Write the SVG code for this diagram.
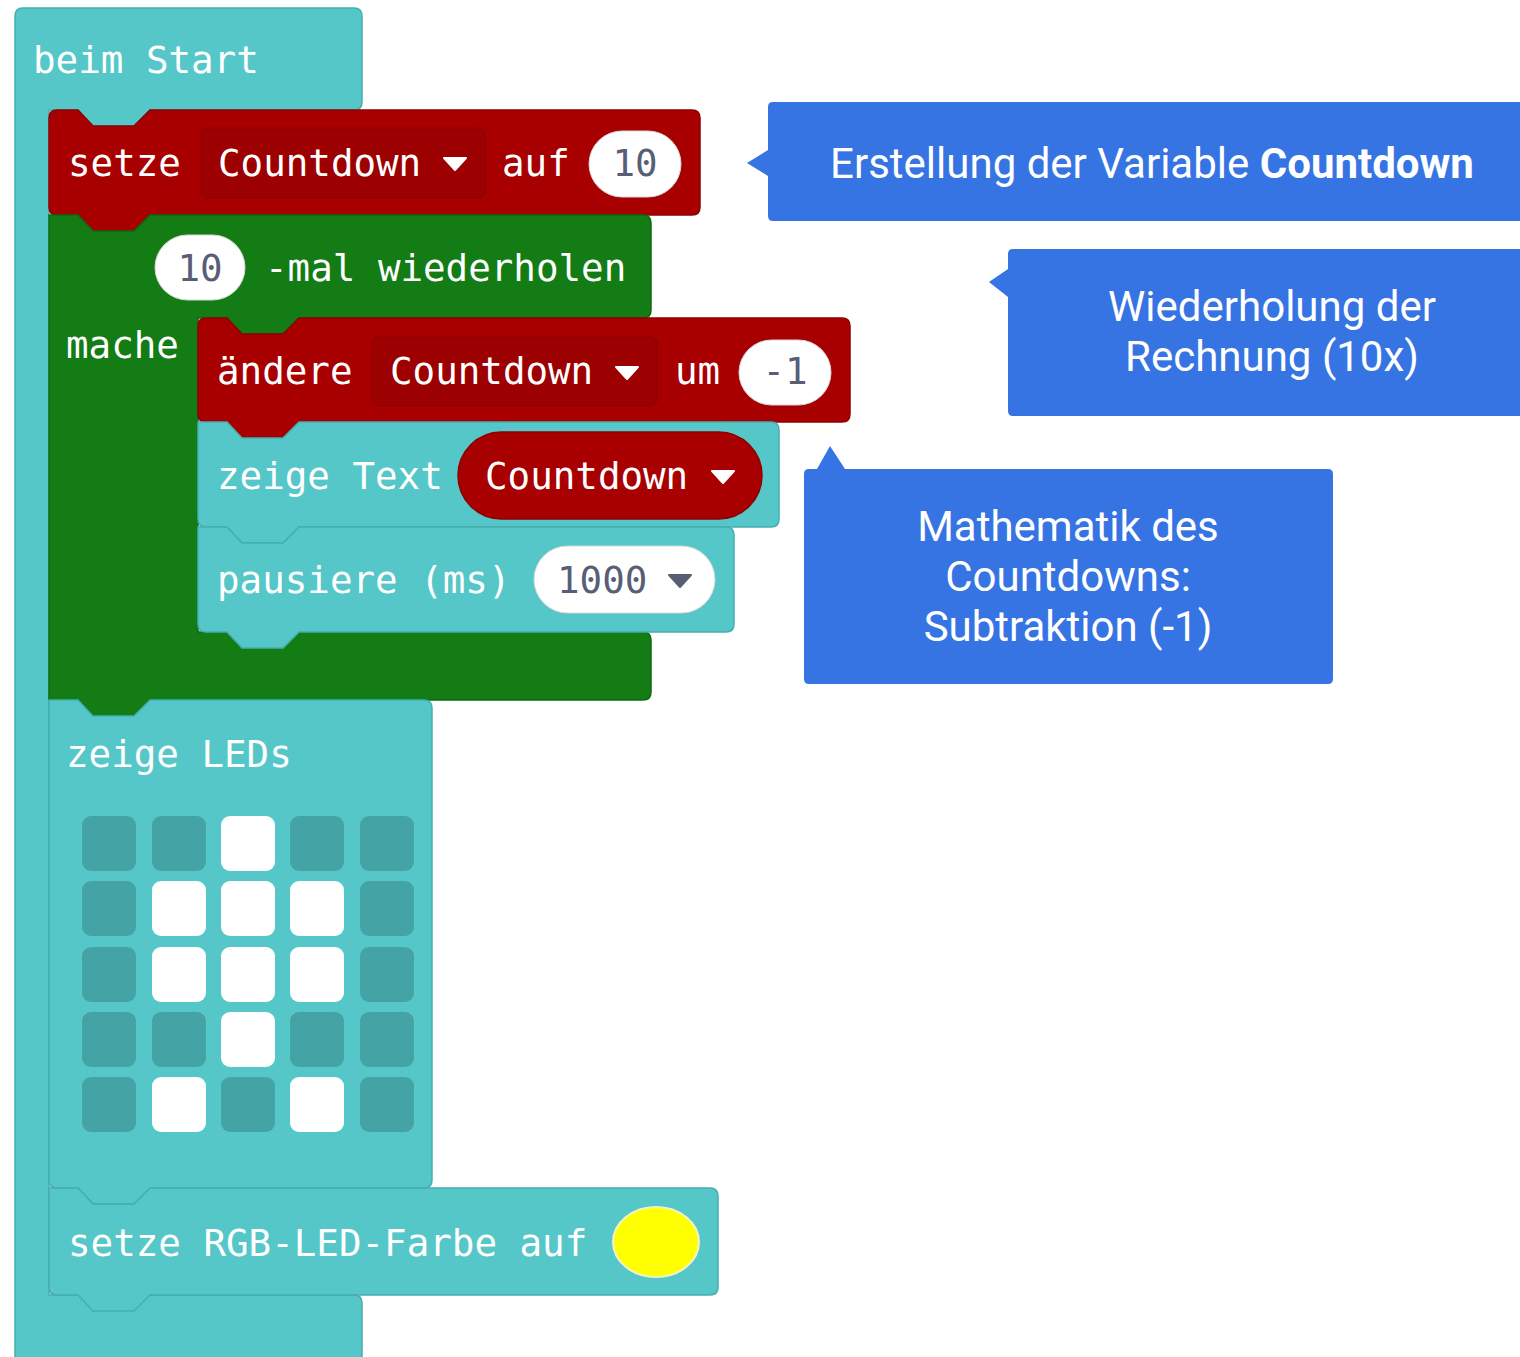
<svg xmlns="http://www.w3.org/2000/svg" width="1520" height="1357" viewBox="0 0 1520 1357">
<defs>
<style>
.cyan{fill:#56c7c8;stroke:#45aeaf;stroke-width:1.5}
.red{fill:#a80000;stroke:#8e0000;stroke-width:1.5}
.green{fill:#137c15;stroke:#0e6a10;stroke-width:1.5}
.field{fill:#9c0000;stroke:#8a0000;stroke-width:1}
.pill{fill:#ffffff;stroke:#d8d8d8;stroke-width:1}
.bt{font-family:"DejaVu Sans Mono","Liberation Mono",monospace;font-size:37.5px;fill:#ffffff}
.num{font-family:"DejaVu Sans Mono","Liberation Mono",monospace;font-size:37.5px;fill:#575e75}
.tri{fill:#ffffff}
.trid{fill:#575e75}
.led{fill:#44a3a4}
.on{fill:#ffffff}
.call{fill:#3674e3}
.ct{font-family:Roboto,"Liberation Sans",sans-serif;font-size:42px;fill:#ffffff}
</style>
</defs>
<rect width="1520" height="1357" fill="#ffffff"/>

<g id="beim-start">
<path class="cyan" d="M15,16 Q15,8 23,8 H354 Q362,8 362,16 V102 Q362,110 354,110 H150 L134,126 H93 L78,110 H49 V1295 H354 Q362,1295 362,1303 V1370 H15 Z"/>
<text class="bt" x="33" y="73">beim Start</text>
</g>

<g id="setze-countdown">
<path class="red" d="M49,118 Q49,110 57,110 H78 L93,126 H134 L150,110 H692 Q700,110 700,118 V207 Q700,215 692,215 H150 L134,231 H93 L78,215 H57 Q49,215 49,207 Z"/>
<text class="bt" x="68" y="176">setze</text>
<rect class="field" x="201" y="128" width="284" height="70" rx="7"/>
<text class="bt" x="218" y="176">Countdown</text>
<path class="tri" d="M444,158 H466 L455,170 Z" stroke="#ffffff" stroke-width="2" stroke-linejoin="round"/>
<text class="bt" x="502" y="176">auf</text>
<rect class="pill" x="589" y="131" width="92" height="66" rx="33"/>
<text class="num" x="635" y="176" text-anchor="middle">10</text>
</g>

<g id="wiederholen">
<path class="green" d="M49,215 H78 L93,231 H134 L150,215 H643 Q651,215 651,223 V310 Q651,318 643,318 H299 L283,334 H242 L227,318 H198 V632 H643 Q651,632 651,640 V692 Q651,700 643,700 H150 L134,716 H93 L78,700 H49 Z"/>
<rect class="pill" x="155" y="235" width="90" height="65" rx="32.5"/>
<text class="num" x="200" y="281" text-anchor="middle">10</text>
<text class="bt" x="265" y="281">-mal wiederholen</text>
<text class="bt" x="66" y="358">mache</text>
</g>

<g id="aendere-countdown">
<path class="red" d="M198,326 Q198,318 206,318 H227 L242,334 H283 L299,318 H842 Q850,318 850,326 V414 Q850,422 842,422 H299 L283,438 H242 L227,422 H206 Q198,422 198,414 Z"/>
<text class="bt" x="217" y="384">ändere</text>
<rect class="field" x="372" y="337" width="285" height="69" rx="7"/>
<text class="bt" x="390" y="384">Countdown</text>
<path class="tri" d="M616,367 H638 L627,379 Z" stroke="#ffffff" stroke-width="2" stroke-linejoin="round"/>
<text class="bt" x="675" y="384">um</text>
<rect class="pill" x="739" y="340" width="92" height="65" rx="32.5"/>
<text class="num" x="785" y="384" text-anchor="middle">-1</text>
</g>

<g id="zeige-text">
<path class="cyan" d="M198,422 H227 L242,438 H283 L299,422 H771 Q779,422 779,430 V519 Q779,527 771,527 H299 L283,543 H242 L227,527 H206 Q198,527 198,519 Z"/>
<text class="bt" x="217" y="489">zeige Text</text>
<rect class="red" x="458" y="432" width="304" height="87" rx="43.5"/>
<text class="bt" x="485" y="489">Countdown</text>
<path class="tri" d="M712,471 H734 L723,483 Z" stroke="#ffffff" stroke-width="2" stroke-linejoin="round"/>
</g>

<g id="pausiere">
<path class="cyan" d="M198,527 H227 L242,543 H283 L299,527 H726 Q734,527 734,535 V624 Q734,632 726,632 H299 L283,648 H242 L227,632 H206 Q198,632 198,624 Z"/>
<text class="bt" x="217" y="593">pausiere (ms)</text>
<rect class="pill" x="534" y="546" width="181" height="67" rx="33.5"/>
<text class="num" x="557" y="593">1000</text>
<path class="trid" d="M669,575 H691 L680,587 Z" stroke="#575e75" stroke-width="2" stroke-linejoin="round"/>
</g>

<g id="zeige-leds">
<path class="cyan" d="M49,700 H78 L93,716 H134 L150,700 H424 Q432,700 432,708 V1180 Q432,1188 424,1188 H150 L134,1204 H93 L78,1188 H57 Q49,1188 49,1180 Z"/>
<text class="bt" x="66" y="767">zeige LEDs</text>
<rect class="led" x="82" y="816" width="54" height="55" rx="9"/>
<rect class="led" x="152" y="816" width="54" height="55" rx="9"/>
<rect class="on" x="221" y="816" width="54" height="55" rx="9"/>
<rect class="led" x="290" y="816" width="54" height="55" rx="9"/>
<rect class="led" x="360" y="816" width="54" height="55" rx="9"/>
<rect class="led" x="82" y="881" width="54" height="55" rx="9"/>
<rect class="on" x="152" y="881" width="54" height="55" rx="9"/>
<rect class="on" x="221" y="881" width="54" height="55" rx="9"/>
<rect class="on" x="290" y="881" width="54" height="55" rx="9"/>
<rect class="led" x="360" y="881" width="54" height="55" rx="9"/>
<rect class="led" x="82" y="947" width="54" height="55" rx="9"/>
<rect class="on" x="152" y="947" width="54" height="55" rx="9"/>
<rect class="on" x="221" y="947" width="54" height="55" rx="9"/>
<rect class="on" x="290" y="947" width="54" height="55" rx="9"/>
<rect class="led" x="360" y="947" width="54" height="55" rx="9"/>
<rect class="led" x="82" y="1012" width="54" height="55" rx="9"/>
<rect class="led" x="152" y="1012" width="54" height="55" rx="9"/>
<rect class="on" x="221" y="1012" width="54" height="55" rx="9"/>
<rect class="led" x="290" y="1012" width="54" height="55" rx="9"/>
<rect class="led" x="360" y="1012" width="54" height="55" rx="9"/>
<rect class="led" x="82" y="1077" width="54" height="55" rx="9"/>
<rect class="on" x="152" y="1077" width="54" height="55" rx="9"/>
<rect class="led" x="221" y="1077" width="54" height="55" rx="9"/>
<rect class="on" x="290" y="1077" width="54" height="55" rx="9"/>
<rect class="led" x="360" y="1077" width="54" height="55" rx="9"/>
</g>

<g id="setze-rgb">
<path class="cyan" d="M49,1188 H78 L93,1204 H134 L150,1188 H710 Q718,1188 718,1196 V1287 Q718,1295 710,1295 H150 L134,1311 H93 L78,1295 H57 Q49,1295 49,1287 Z"/>
<text class="bt" x="68" y="1256">setze RGB-LED-Farbe auf</text>
<ellipse cx="656" cy="1242" rx="43" ry="35" fill="#ffff00" stroke="#f4f4c8" stroke-width="2"/>
</g>

<g id="callout-variable">
<path class="call" d="M768,107 Q768,102 773,102 H1520 V221 H773 Q768,221 768,216 V176 L747,163 L768,150 Z"/>
<text class="ct" x="1152" y="178" text-anchor="middle">Erstellung der Variable <tspan font-weight="700">Countdown</tspan></text>
</g>

<g id="callout-wiederholung">
<path class="call" d="M1008,254 Q1008,249 1013,249 H1520 V416 H1013 Q1008,416 1008,411 V297 L989,282 L1008,269 Z"/>
<text class="ct" x="1272" y="321" text-anchor="middle">Wiederholung der</text>
<text class="ct" x="1272" y="371" text-anchor="middle">Rechnung (10x)</text>
</g>

<g id="callout-mathematik">
<path class="call" d="M804,474 Q804,469 809,469 H817 L830,446 L845,469 H1328 Q1333,469 1333,474 V679 Q1333,684 1328,684 H809 Q804,684 804,679 Z"/>
<text class="ct" x="1068" y="541" text-anchor="middle">Mathematik des</text>
<text class="ct" x="1068" y="591" text-anchor="middle">Countdowns:</text>
<text class="ct" x="1068" y="641" text-anchor="middle">Subtraktion (-1)</text>
</g>

<g id="connectors"></g>
</svg>
